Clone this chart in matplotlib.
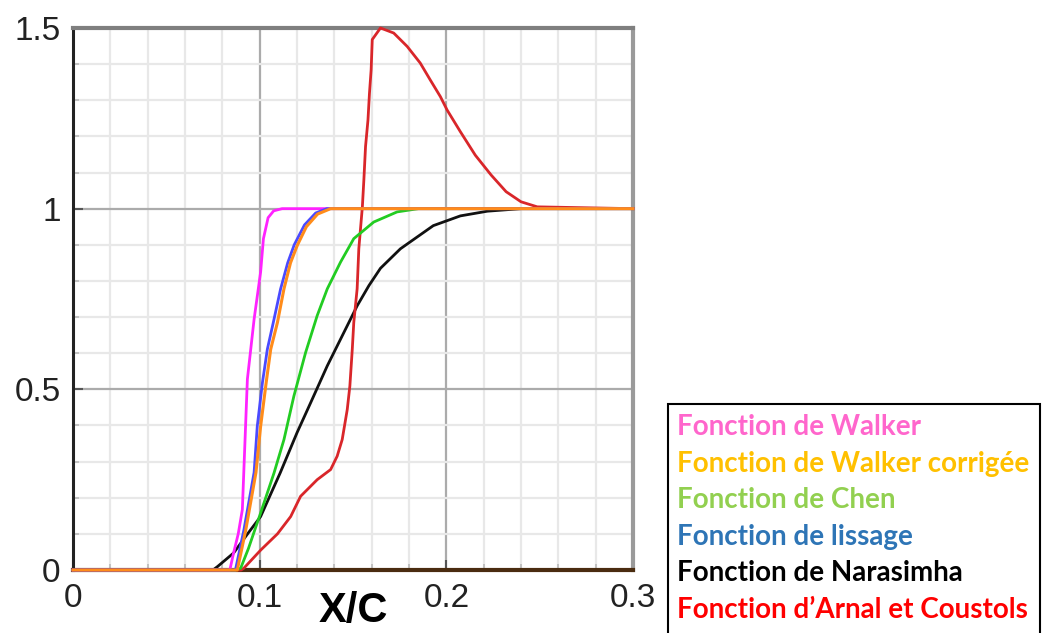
import matplotlib
matplotlib.use('Agg')
import matplotlib.pyplot as plt
from matplotlib.patches import Rectangle
from matplotlib.ticker import MultipleLocator

# curves (x = X/C, y = intermittency)
walker_x = [0, 0.084, 0.086, 0.0885, 0.0907, 0.0934, 0.097, 0.1005, 0.102, 0.1045, 0.1075, 0.112, 0.3]
walker_y = [0, 0, 0.047, 0.1, 0.167, 0.528, 0.694, 0.825, 0.917, 0.975, 0.994, 1, 1]

walker_corr_x = [0, 0.088, 0.0925, 0.098, 0.1005, 0.1035, 0.1059, 0.1095, 0.113, 0.1165, 0.1201, 0.125,
                 0.131, 0.138, 0.3]
walker_corr_y = [0, 0, 0.11, 0.27, 0.398, 0.52, 0.611, 0.685, 0.778, 0.85, 0.898, 0.95, 0.985, 1, 1]

lissage_x = [0, 0.087, 0.0915, 0.097, 0.0987, 0.1015, 0.1041, 0.1075, 0.1112, 0.115, 0.1185, 0.124,
             0.130, 0.136, 0.3]
lissage_y = [0, 0, 0.11, 0.27, 0.398, 0.52, 0.611, 0.69, 0.778, 0.85, 0.9, 0.955, 0.988, 1, 1]

chen_x = [0, 0.087, 0.0898, 0.094, 0.1005, 0.1077, 0.113, 0.1183, 0.1246, 0.1308, 0.1362, 0.1433,
          0.1504, 0.1611, 0.1736, 0.185, 0.3]
chen_y = [0, 0, 0.005, 0.06, 0.158, 0.269, 0.361, 0.481, 0.602, 0.704, 0.778, 0.852,
          0.917, 0.963, 0.991, 1, 1]

narasimha_x = [0, 0.075, 0.0775, 0.086, 0.0935, 0.1005, 0.111, 0.120, 0.1273, 0.1362, 0.1415, 0.1469,
               0.1522, 0.1585, 0.1647, 0.1754, 0.193, 0.2075, 0.222, 0.24, 0.3]
narasimha_y = [0, 0, 0.01, 0.047, 0.1, 0.148, 0.269, 0.38, 0.463, 0.565, 0.62, 0.676,
               0.731, 0.787, 0.835, 0.889, 0.953, 0.98, 0.993, 1, 1]

arnal_x = [0, 0.09, 0.0915, 0.1005, 0.1095, 0.1166, 0.1219, 0.1308, 0.138, 0.1415, 0.1442, 0.1469,
           0.1483, 0.1496, 0.1504, 0.1522, 0.1531, 0.155, 0.1558, 0.1567, 0.158, 0.1588, 0.1597, 0.1603,
           0.1647, 0.1718, 0.179, 0.186, 0.1914, 0.1968, 0.2004, 0.2075, 0.2155, 0.224, 0.232, 0.240,
           0.2487, 0.3]
arnal_y = [0, 0, 0.005, 0.055, 0.1, 0.148, 0.204, 0.25, 0.278, 0.315, 0.361, 0.444,
           0.509, 0.611, 0.685, 0.778, 0.889, 1.005, 1.079, 1.172, 1.245, 1.319, 1.384, 1.468,
           1.5, 1.486, 1.449, 1.403, 1.356, 1.31, 1.273, 1.213, 1.148, 1.093, 1.047, 1.019,
           1.005, 1]

x_ticks = [0, 0.1, 0.2, 0.3]
x_ticklabels = ['0', '0.1', '0.2', '0.3']
y_ticks = [0, 0.5, 1, 1.5]
y_ticklabels = ['0', '0.5', '1', '1.5']

legend_labels = ['Fonction de Walker', 'Fonction de Walker corrigée', 'Fonction de Chen',
                 'Fonction de lissage', 'Fonction de Narasimha', 'Fonction d\u2019Arnal et Coustols']
legend_colors = ['#ff66cc', '#ffc000', '#92d050', '#2e75b6', '#000000', '#ff0000']

fig = plt.figure(figsize=(10.42, 6.33), dpi=100)
ax = fig.add_axes([0.0701, 0.0995, 0.5374, 0.8563])

ax.set_xlim(0, 0.3)
ax.set_ylim(0, 1.5)
ax.set_xticks(x_ticks)
ax.set_xticklabels(x_ticklabels)
ax.set_yticks(y_ticks)
ax.set_yticklabels(y_ticklabels)
ax.xaxis.set_minor_locator(MultipleLocator(0.02))
ax.yaxis.set_minor_locator(MultipleLocator(0.1))

ax.grid(which='major', color='#ababab', lw=1.6, zorder=0)
ax.grid(which='minor', color='#e8e8e8', lw=1.6, zorder=0)
ax.set_axisbelow(True)

ax.tick_params(which='major', direction='in', length=7, width=1.5, color='#555555',
               labelsize=24, labelcolor='#222222', pad=9)
ax.tick_params(which='minor', direction='in', length=4, width=1.2, color='#bbbbbb')
for lab in ax.get_xticklabels() + ax.get_yticklabels():
    lab.set_family('Liberation Sans')

ax.spines['left'].set_color('#222222')
ax.spines['left'].set_linewidth(2.2)
ax.spines['bottom'].set_color('#4a2c10')
ax.spines['bottom'].set_linewidth(3)
ax.spines['top'].set_color('#7f7f7f')
ax.spines['top'].set_linewidth(3)
ax.spines['right'].set_color('#9a9a9a')
ax.spines['right'].set_linewidth(3)

ax.plot(narasimha_x, narasimha_y, color='#111111', lw=2, zorder=3, clip_on=False)
ax.plot(arnal_x, arnal_y, color='#d9262a', lw=2, zorder=3, clip_on=False)
ax.plot(chen_x, chen_y, color='#22cc22', lw=2, zorder=3, clip_on=False)
ax.plot(walker_x, walker_y, color='#ff22ff', lw=2, zorder=3, clip_on=False)
ax.plot(lissage_x, lissage_y, color='#4a4aff', lw=2, zorder=3, clip_on=False)
ax.plot(walker_corr_x, walker_corr_y, color='#ff8c1a', lw=2.2, zorder=3, clip_on=False)

ax.set_xlabel('X/C', fontsize=30, fontweight='bold', family='Liberation Sans', labelpad=-16)

# text legend in a box, to the right of the plot
fig.patches.append(Rectangle((668 / 1042, -0.01), 372 / 1042, 0.372, transform=fig.transFigure,
                             fill=False, edgecolor='black', lw=1.5))
y0 = 1 - 427 / 633
for i, (lab, col) in enumerate(zip(legend_labels, legend_colors)):
    fig.text(677 / 1042, y0 - i * 36.6 / 633, lab, color=col, fontsize=20, fontweight='bold',
             family='Lato', va='center', ha='left')

fig.savefig('out.png', dpi=100)
